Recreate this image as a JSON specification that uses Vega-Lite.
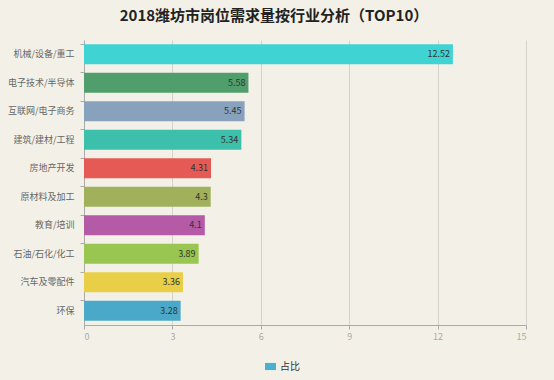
{
  "$schema": "https://vega.github.io/schema/vega-lite/v6.json",
  "autosize": "none",
  "width": 442,
  "height": 285,
  "padding": {"left": 84, "top": 40, "right": 28, "bottom": 55},
  "background": "#f3f1e7",
  "config": {
    "font": "Noto Sans CJK SC",
    "view": {"stroke": null}
  },
  "title": {
    "text": "2018潍坊市岗位需求量按行业分析（TOP10）",
    "fontSize": 15,
    "fontWeight": "bold",
    "color": "#222222",
    "anchor": "middle",
    "dx": -31,
    "offset": 16
  },
  "data": {
    "values": [
      {"行业": "机械/设备/重工", "占比": 12.52, "series": "占比"},
      {"行业": "电子技术/半导体", "占比": 5.58, "series": "占比"},
      {"行业": "互联网/电子商务", "占比": 5.45, "series": "占比"},
      {"行业": "建筑/建材/工程", "占比": 5.34, "series": "占比"},
      {"行业": "房地产开发", "占比": 4.31, "series": "占比"},
      {"行业": "原材料及加工", "占比": 4.3, "series": "占比"},
      {"行业": "教育/培训", "占比": 4.1, "series": "占比"},
      {"行业": "石油/石化/化工", "占比": 3.89, "series": "占比"},
      {"行业": "汽车及零配件", "占比": 3.36, "series": "占比"},
      {"行业": "环保", "占比": 3.28, "series": "占比"}
    ]
  },
  "encoding": {
    "y": {
      "field": "行业",
      "type": "nominal",
      "sort": null,
      "scale": {"paddingInner": 0.3, "paddingOuter": 0.15},
      "axis": {
        "title": null,
        "labelFontSize": 9,
        "labelColor": "#666666",
        "labelPadding": 6,
        "domainColor": "#aaaaaa",
        "tickColor": "#aaaaaa",
        "tickSize": 4,
        "bandPosition": 0
      }
    },
    "x": {
      "field": "占比",
      "type": "quantitative",
      "scale": {"domain": [0, 15]},
      "axis": {
        "title": null,
        "values": [0, 3, 6, 9, 12, 15],
        "labelFontSize": 9,
        "labelColor": "#aaaaaa",
        "domainColor": "#aaaaaa",
        "tickColor": "#aaaaaa",
        "tickSize": 4,
        "gridColor": "#d4d2cb",
        "labelPadding": 3
      }
    }
  },
  "layer": [
    {
      "mark": {"type": "bar"},
      "encoding": {
        "fill": {
          "field": "行业",
          "type": "nominal",
          "sort": null,
          "legend": null,
          "scale": {
            "domain": ["机械/设备/重工", "电子技术/半导体", "互联网/电子商务", "建筑/建材/工程", "房地产开发", "原材料及加工", "教育/培训", "石油/石化/化工", "汽车及零配件", "环保"],
            "range": ["#40d3d3", "#4f9e6b", "#88a1bd", "#3cbfab", "#e65a55", "#a0b05b", "#b45aa6", "#99c651", "#e8cf47", "#4aa9c9"]
          }
        }
      }
    },
    {
      "mark": {"type": "square", "opacity": 0, "size": 1},
      "encoding": {
        "color": {
          "field": "series",
          "type": "nominal",
          "title": null,
          "scale": {"range": ["#4ab0d0"]},
          "legend": {
            "orient": "none",
            "legendX": 181,
            "legendY": 321,
            "symbolType": "M-1,-0.65 h2 v1.3 h-2 z",
            "symbolSize": 120,
            "symbolOpacity": 1,
            "symbolStrokeWidth": 0,
            "labelFontSize": 10,
            "labelColor": "#333333",
            "labelOffset": 4,
            "encode": {
              "symbols": {
                "update": {
                  "opacity": {"value": 1},
                  "fillOpacity": {"value": 1}
                }
              }
            }
          }
        }
      }
    },
    {
      "mark": {"type": "text", "align": "right", "dx": -3, "fontSize": 9, "color": "#333333"},
      "encoding": {
        "text": {"field": "占比", "type": "quantitative"}
      }
    }
  ]
}
